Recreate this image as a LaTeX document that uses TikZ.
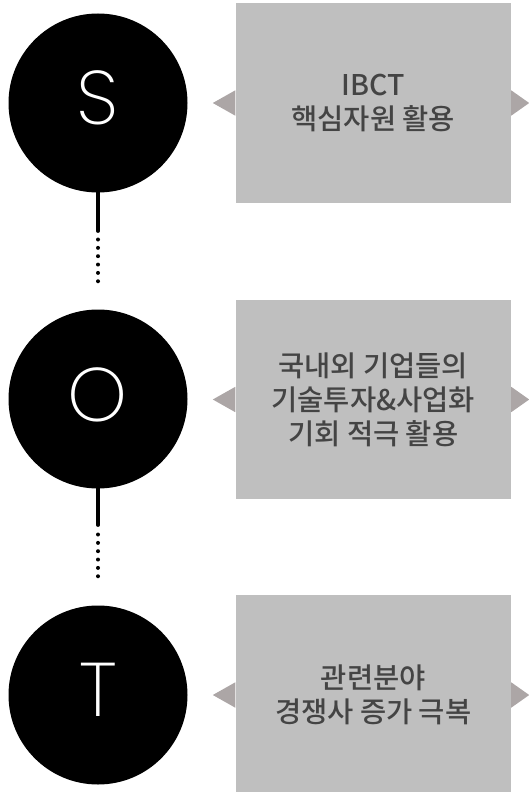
\documentclass[tikz,border=0pt]{standalone}
\usepackage{fontspec}
\IfFontExistsTF{Noto Sans CJK KR Medium}{\newfontfamily\krfont{Noto Sans CJK KR Medium}}{%
  \newfontfamily\krfont[FakeBold=1.2]{Noto Sans CJK KR}}
\IfFontExistsTF{Poppins ExtraLight}{\newfontfamily\thinfont{Poppins ExtraLight}}{%
 \IfFontExistsTF{Noto Sans ExtraLight}{\newfontfamily\thinfont{Noto Sans ExtraLight}}{%
  \IfFontExistsTF{Fira Sans ExtraLight}{\newfontfamily\thinfont{Fira Sans ExtraLight}}{%
   \IfFontExistsTF{Lato Light}{\newfontfamily\thinfont{Lato Light}}{\newfontfamily\thinfont{DejaVu Sans}}}}}
\definecolor{boxgray}{RGB}{191,191,191}
\definecolor{trigray}{RGB}{172,166,166}
\definecolor{txtgray}{RGB}{68,68,68}
\tikzset{
  circ/.style={circle, fill=black, inner sep=0pt, minimum size=179pt},
  letter/.style={text=white, inner sep=0pt, font=\thinfont\fontsize{76}{76}\selectfont},
  boxst/.style={fill=boxgray, inner sep=0pt, minimum width=275.5pt, minimum height=199.5pt,
    align=center, text=txtgray, font=\krfont\fontsize{28.5}{34}\selectfont},
  tri/.style={fill=trigray},
  solidline/.style={line width=3.8pt, line cap=round},
  dotst/.style={fill=black}
}
\begin{document}
\begin{tikzpicture}[x=1pt,y=-1pt]
\useasboundingbox (0,0) rectangle (529,792);
% circles
\node[circ] (S) at (98,103) {};
\node[circ] (O) at (98,399) {};
\node[circ] (T) at (98,695) {};
\node[letter] (Sl) at ([yshift=5pt]S.center) {S};
\node[letter] (Ol) at ([yshift=4pt]O.center) {O};
\node[letter] (Tl) at ([yshift=5pt]T.center) {T};
% boxes
\node[boxst] (B1) at (373.25,103) {IBCT\\핵심자원 활용};
\node[boxst] (B2) at (373.25,399.5) {국내외 기업들의\\기술투자\&사업화\\기회 적극 활용};
\node[boxst] (B3) at (373.25,695) {관련분야\\경쟁사 증가 극복};
% triangles
\foreach \b in {B1,B2,B3}{
  \fill[tri] ([yshift=12.7pt]\b.west) -- ([xshift=-22.5pt]\b.west) -- ([yshift=-12.7pt]\b.west) -- cycle;
  \fill[tri] ([yshift=12.7pt]\b.east) -- ([xshift=18pt]\b.east) -- ([yshift=-12.7pt]\b.east) -- cycle;
}
% connectors
\coordinate (S1) at (98,231);
\coordinate (O1) at (98,525);
\draw[solidline] (S.south) -- (S1);
\draw[solidline] (O.south) -- (O1);
\foreach \k in {0,...,5}{
  \fill[dotst] (98,239.5+8.35*\k) circle (2pt);
  \fill[dotst] (98,534.5+8.35*\k) circle (2pt);
}
\end{tikzpicture}
\end{document}
